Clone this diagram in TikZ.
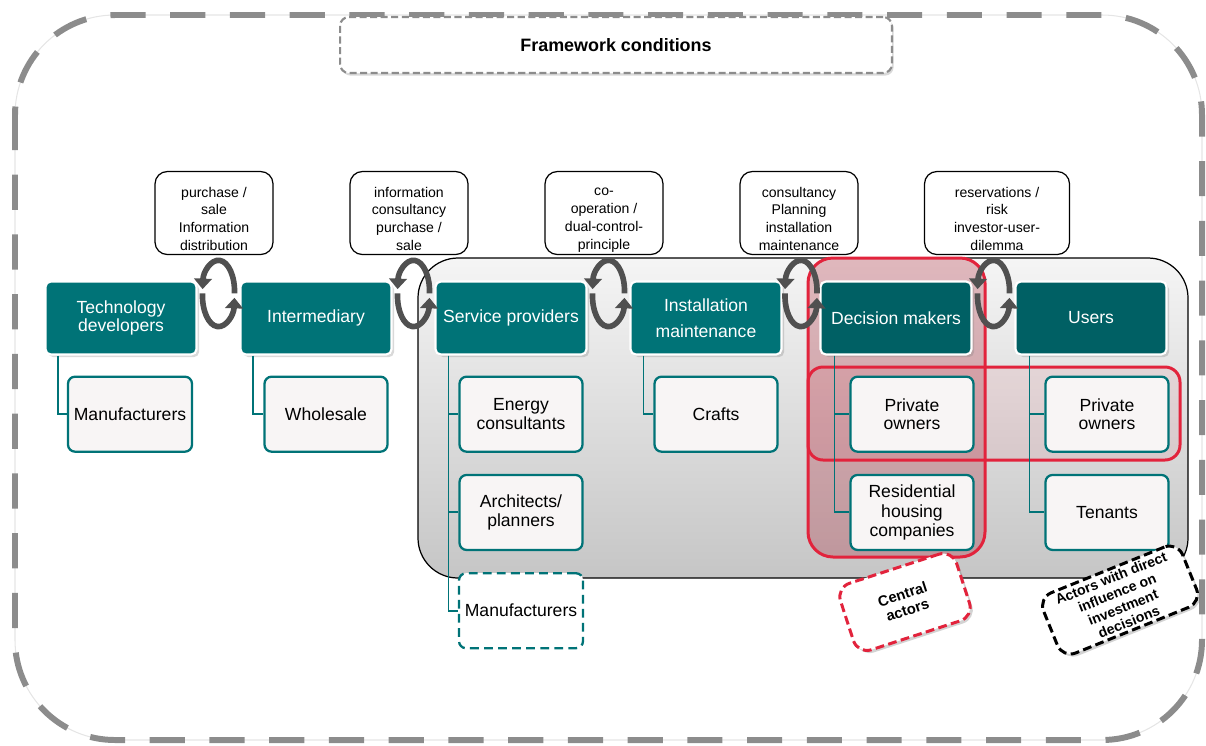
\documentclass[tikz,border=0pt]{standalone}
\usepackage{fontspec}
\setmainfont{Liberation Sans}
\usepackage{tikz}
\usetikzlibrary{positioning,calc,shadows,arrows.meta}
\tikzset{>={Triangle[length=6pt,width=10pt]}}
\definecolor{tealA}{RGB}{0,115,119}
\definecolor{tealB}{RGB}{0,96,100}
\definecolor{subfill}{RGB}{248,245,245}
\definecolor{redc}{RGB}{226,35,60}
\definecolor{framegrey}{RGB}{140,140,140}
\definecolor{arrowgrey}{RGB}{80,80,80}
\newcommand{\nstrut}{\rule{0pt}{12.5pt}}
\tikzset{
  swap/.pic={
    \draw[swaparc] (16,2) arc[start angle=4, end angle=-176, x radius=16, y radius=31];
    \draw[swaparc] (-16,2) arc[start angle=184, end angle=4, x radius=16, y radius=31];
  }
}

\begin{document}
\begin{tikzpicture}[x=0.02cm,y=-0.02cm,
    head/.style={rectangle, rounded corners=3pt, fill=tealA, draw=white, line width=1.2pt,
      text=white, minimum width=3.02cm, minimum height=1.46cm, align=center,
      font=\fontsize{10}{15}\selectfont,
      drop shadow={opacity=0.3, shadow xshift=1.5pt, shadow yshift=-1.5pt}},
    sub/.style={rectangle, rounded corners=4pt, fill=subfill, draw=tealA, line width=1.3pt,
      minimum width=2.46cm, minimum height=1.5cm, align=center,
      font=\fontsize{10}{10.6}\selectfont},
    subdash/.style={sub, fill=white, dash pattern=on 5pt off 3pt},
    note/.style={rectangle, rounded corners=7pt, fill=white, draw=black, line width=0.7pt,
      minimum width=2.36cm, minimum height=1.66cm, align=center, inner sep=1pt,
      font=\fontsize{8}{10.2}\selectfont},
    tag/.style={rectangle, rounded corners=8pt, fill=white, line width=1.7pt,
      dash pattern=on 5pt off 2.5pt, align=center, inner sep=2pt,
      font=\bfseries\fontsize{8.4}{9.4}\selectfont,
      drop shadow={opacity=0.35, shadow xshift=1.5pt, shadow yshift=-1.5pt}},
    tree/.style={draw=tealA, line width=1.1pt},
    swaparc/.style={draw=arrowgrey, line width=3.2pt, ->}]
\useasboundingbox (0,0) rectangle (1206,745);

% outer frame
\draw[gray!20, line width=0.6pt, rounded corners=2cm] (15,15) rectangle (1202,740);
\draw[framegrey, line width=3.4pt, dash pattern=on 20pt off 14pt, rounded corners=2cm]
  (15,15) rectangle (1202,740);
\node[rectangle, rounded corners=5pt, fill=white, draw=framegrey, line width=1.2pt,
  dash pattern=on 4pt off 2pt, minimum width=11.04cm, minimum height=1.12cm,
  font=\bfseries\fontsize{10.2}{12}\selectfont,
  drop shadow={opacity=0.3, shadow xshift=1pt, shadow yshift=-1.5pt}]
  (fw) at (616,45) {Framework conditions};

% grey area and highlights
\draw[black, line width=0.7pt, top color=gray!8, bottom color=gray!45, rounded corners=0.8cm]
  (418,258) rectangle (1188,578);
\draw[redc, line width=1.7pt, fill=redc!75!black, fill opacity=0.28, rounded corners=0.5cm]
  (808,258) rectangle (985,557);
\draw[redc, line width=1.7pt, fill=redc, fill opacity=0.08, rounded corners=0.3cm]
  (808,367) rectangle (1180,460);

% actors
\node[head, font=\fontsize{10}{9.8}\selectfont] (tech) at (121,318) {Technology\\developers};
\node[head] (inter) at (316,318) {Intermediary};
\node[head] (serv) at (511,318) {Service providers};
\node[head] (inst) at (706,318) {Installation\\maintenance};
\node[head, fill=tealB] (dec) at (896,318) {Decision makers};
\node[head, fill=tealB] (users) at (1091,318) {Users};

\node[sub, below=0.4cm of tech, xshift=0.18cm] (manu) {Manufacturers};
\node[sub, below=0.4cm of inter, xshift=0.2cm] (whole) {Wholesale};
\node[sub, below=0.4cm of serv, xshift=0.2cm] (energy) {Energy\\consultants};
\node[sub, below=0.42cm of energy] (arch) {Architects/\\planners};
\node[subdash, below=0.42cm of arch] (manu2) {Manufacturers};
\node[sub, below=0.4cm of inst, xshift=0.2cm] (crafts) {Crafts};
\node[sub, below=0.4cm of dec, xshift=0.32cm] (priv) {Private\\owners};
\node[sub, below=0.42cm of priv, font=\fontsize{10}{11.2}\selectfont] (resi) {Residential\\housing\\companies};
\node[sub, below=0.4cm of users, xshift=0.32cm] (priv2) {Private\\owners};
\node[sub, below=0.42cm of priv2] (ten) {Tenants};

% tree lines
\draw[tree] ($(tech.south west)+(14,0)$) |- (manu.west);
\draw[tree] ($(inter.south west)+(14,0)$) |- (whole.west);
\draw[tree] ($(serv.south west)+(14,0)$) |- (energy.west);
\draw[tree] ($(serv.south west)+(14,0)$) |- (arch.west);
\draw[tree] ($(serv.south west)+(14,0)$) |- (manu2.west);
\draw[tree] ($(inst.south west)+(14,0)$) |- (crafts.west);
\draw[tree] ($(dec.south west)+(15,0)$) |- (priv.west);
\draw[tree] ($(dec.south west)+(15,0)$) |- (resi.west);
\draw[tree] ($(users.south west)+(15,0)$) |- (priv2.west);
\draw[tree] ($(users.south west)+(15,0)$) |- (ten.west);

% exchange cycles
\coordinate (s1) at ($(tech.north east)!0.5!(inter.north west)+(0,11)$);
\coordinate (s2) at ($(inter.north east)!0.5!(serv.north west)+(0,11)$);
\coordinate (s3) at ($(serv.north east)!0.5!(inst.north west)+(0,11)$);
\coordinate (s4) at ($(inst.north east)!0.5!(dec.north west)+(0,11)$);
\coordinate (s5) at ($(dec.north east)!0.5!(users.north west)+(0,11)$);
\foreach \s in {s1,s2,s3,s4,s5}
  \pic at (\s) {swap};

% relations
\node[note] (n1) at (214,213) {\nstrut purchase /\\sale\\Information\\distribution};
\node[note] (n2) at (409,213) {\nstrut information\\consultancy\\purchase /\\sale};
\node[note] (n3) at (604,213) {\nstrut co-\\operation /\\dual-control-\\principle};
\node[note] (n4) at (799,213) {\nstrut consultancy\\Planning\\installation\\maintenance};
\node[note, minimum width=2.9cm] (n5) at (997,213) {\nstrut reservations /\\risk\\investor-user-\\dilemma};

% remarks
\node[tag, draw=redc, rotate=18, minimum width=2.44cm, minimum height=1.4cm]
  (central) at (905,602) {Central\\actors};
\node[tag, draw=black, rotate=22, minimum width=3cm, minimum height=1.3cm,
  inner sep=1pt, font=\bfseries\fontsize{8}{9}\selectfont]
  (direct) at (1120,600) {Actors with direct\\influence on\\investment\\decisions};
\end{tikzpicture}
\end{document}
